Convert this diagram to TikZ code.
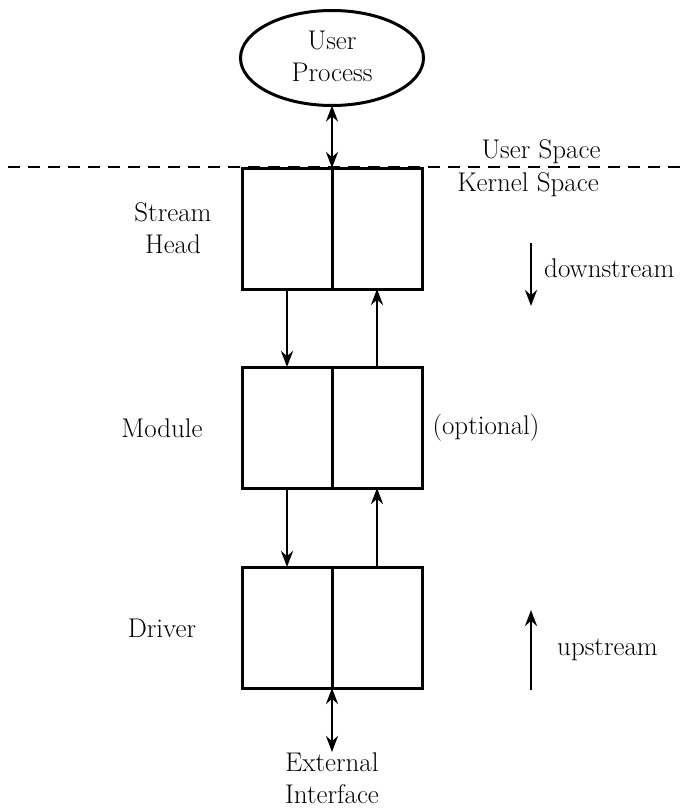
\documentclass[tikz,border=0pt]{standalone}
\usetikzlibrary{arrows.meta,shapes.geometric}
\begin{document}
\begin{tikzpicture}[x=1pt,y=-1pt,
  every node/.style={font=\fontsize{27}{32}\selectfont},
  half/.style={draw,line width=3pt,minimum width=90pt,minimum height=121pt,inner sep=0pt,outer sep=0pt},
  flow/.style={line width=2.6pt,-{Stealth[length=16pt,width=12pt]}},
  both/.style={line width=2.6pt,{Stealth[length=16pt,width=12pt]}-{Stealth[length=16pt,width=12pt]}},
  lbl/.style={align=center,inner sep=0pt}]
\useasboundingbox (0,0) rectangle (690,808);
% user process
\node[draw,ellipse,line width=3pt,minimum width=183pt,minimum height=95pt,inner sep=0pt,outer sep=0pt] (up) at (332,58) {};
\node[lbl] (uptext) at (332,56) {User\\Process};
% dashed line
\coordinate (dl) at (8,167);
\coordinate (dr) at (683,167);
\draw[line width=2.6pt,dash pattern=on 12pt off 8pt] (dl) -- (dr);
% boxes
\node[half] (shL) at (287,228.5) {};
\node[half] (shR) at (377,228.5) {};
\node[half] (mdL) at (287,427.5) {};
\node[half] (mdR) at (377,427.5) {};
\node[half] (drL) at (287,627.5) {};
\node[half] (drR) at (377,627.5) {};
% arrows
\draw[both] (up.south) -- (shL.north east);
\draw[flow] (shL.south) -- (mdL.north);
\draw[flow] (mdR.north) -- (shR.south);
\draw[flow] (mdL.south) -- (drL.north);
\draw[flow] (drR.north) -- (mdR.south);
\coordinate (ext) at (332,752);
\draw[both] (drL.south east) -- (ext);
\node[lbl,anchor=north] (exttext) at (332,753) {External\\Interface};
% labels
\node[lbl] (shlab) at (173,228) {Stream\\Head};
\node[lbl] (mdlab) at (162,428) {Module};
\node[lbl] (drlab) at (162,628) {Driver};
\node[lbl] (opt) at (486,428) {(optional)};
\node[lbl,anchor=base] (us) at (541,158) {User Space};
\node[lbl,anchor=base] (ks) at (528,191) {Kernel Space};
\coordinate (dsa) at (531,243);
\coordinate (dsb) at (531,306);
\draw[flow] (dsa) -- (dsb);
\node[lbl,anchor=west] (ds) at (544,268) {downstream};
\coordinate (usa) at (531,690);
\coordinate (usb) at (531,610);
\draw[flow] (usa) -- (usb);
\node[lbl,anchor=west] (ust) at (557,650) {upstream};
\end{tikzpicture}
\end{document}
